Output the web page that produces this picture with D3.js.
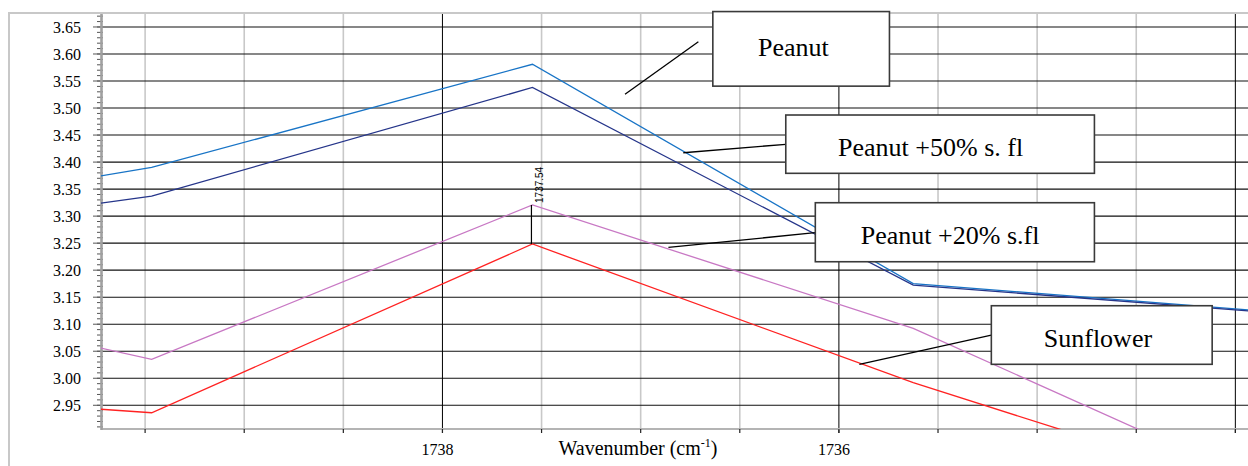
<!DOCTYPE html>
<html>
<head>
<meta charset="utf-8">
<script src="https://cdn.jsdelivr.net/npm/d3@7"></script>
<style>
  html, body { margin: 0; padding: 0; background: #fff; }
  svg { display: block; }
</style>
</head>
<body>
<svg id="chart" width="1248" height="466"></svg>
<script>
// ---------------- DATA ----------------
const wavenumbers = [1741.388, 1739.467, 1737.546, 1735.625, 1733.704];
const seriesNames = ["Peanut", "Peanut +50% s. fl", "Peanut +20% s.fl", "Sunflower"];
const peanut      = [3.272, 3.390, 3.581, 3.175, 3.120];
const peanut50    = [3.239, 3.337, 3.538, 3.1725, 3.118];
const peanut20    = [3.190, 3.035, 3.3206, 3.0924, 2.776];
const sunflower   = [2.985, 2.9362, 3.2484, 2.9918, 2.768];
const yTickValues = [2.95, 3.00, 3.05, 3.10, 3.15, 3.20, 3.25, 3.30, 3.35, 3.40, 3.45, 3.50, 3.55, 3.60, 3.65];
const xTickLabels = [1738, 1736];
const peakWavenumber = 1737.546;

// annotation callouts in data coordinates: [wLeft, wRight, yTop, yBottom], leader [w1,y1,w2,y2], label [w, yBaseline]
const calloutBoxes = [
  [1736.636, 1735.745, 3.6785, 3.5405],
  [1736.268, 1734.711, 3.4871, 3.3792],
  [1736.119, 1734.711, 3.3248, 3.2156],
  [1735.231, 1734.117, 3.1342, 3.0258]
];
const calloutLeaders = [
  [1737.079, 3.5254, 1736.709, 3.6227],
  [1736.785, 3.4173, 1736.268, 3.4329],
  [1736.860, 3.2423, 1736.120, 3.2693],
  [1735.897, 3.0258, 1735.231, 3.0800]
];
const calloutLabels = [
  [1736.2296, 3.5963],
  [1735.5373, 3.4112],
  [1735.4389, 3.2478],
  [1734.6932, 3.0583]
];

// ---------------- LAYOUT ----------------
const colors = ["#1874c6", "#25358a", "#c878c4", "#ff2222"];
const svg = d3.select("#chart");
const pL = 101, pR = 1262, pT = 14, pB = 429;

const x = d3.scaleLinear().domain([1739.7225, 1733.8656]).range([pL, pR]);
const y = d3.scaleLinear().domain([2.9061, 3.674]).range([pB, pT]);

// chart border (light gray)
svg.append("path")
  .attr("d", `M9,466 L9,13 L1248,13`)
  .attr("fill", "none").attr("stroke", "#c8c8c8").attr("stroke-width", 2);

// clip
svg.append("clipPath").attr("id", "plotclip")
  .append("rect").attr("x", pL).attr("y", pT).attr("width", pR - pL).attr("height", pB - pT);

const grid = svg.append("g");
// vertical gridlines every 0.5
const vTicks = d3.range(1734, 1740, 0.5);
grid.selectAll("line.vg").data(vTicks.filter(v => v % 2 !== 0)).join("line")
  .attr("x1", d => x(d)).attr("x2", d => x(d)).attr("y1", pT).attr("y2", pB)
  .attr("stroke", "#c8c8c8").attr("stroke-width", 1.6);
// horizontal gridlines
grid.selectAll("line.hg").data(yTickValues).join("line")
  .attr("x1", pL).attr("x2", pR).attr("y1", d => y(d)).attr("y2", d => y(d))
  .attr("stroke", "#111").attr("stroke-width", 1.1);
// major vertical gridlines (black)
grid.selectAll("line.vm").data(vTicks.filter(v => v % 2 === 0)).join("line")
  .attr("x1", d => x(d)).attr("x2", d => x(d)).attr("y1", pT).attr("y2", pB + 4)
  .attr("stroke", "#000").attr("stroke-width", 1);

// axes lines
svg.append("line").attr("x1", pL).attr("x2", 1248).attr("y1", pB).attr("y2", pB)
  .attr("stroke", "#b4b4b4").attr("stroke-width", 2);

// y ticks: minor every 0.01
const minorY = d3.range(2.91, 3.675, 0.01);
svg.append("g").selectAll("line").data(minorY).join("line")
  .attr("x1", pL - 4).attr("x2", pL + 2).attr("y1", d => y(d)).attr("y2", d => y(d))
  .attr("stroke", "#555").attr("stroke-width", 1);
svg.append("g").selectAll("line").data(yTickValues).join("line")
  .attr("x1", pL - 8).attr("x2", pL).attr("y1", d => y(d)).attr("y2", d => y(d))
  .attr("stroke", "#555").attr("stroke-width", 1);
svg.append("line").attr("x1", pL + 0.5).attr("x2", pL + 0.5).attr("y1", pT).attr("y2", pB + 1)
  .attr("stroke", "#a0a0a0").attr("stroke-width", 2.6);

// x ticks every 0.5
svg.append("g").selectAll("line").data(vTicks.filter(v => x(v) > pL + 5)).join("line")
  .attr("x1", d => x(d)).attr("x2", d => x(d)).attr("y1", pB).attr("y2", pB + 4)
  .attr("stroke", "#222").attr("stroke-width", 1.2);

// y tick labels
svg.append("g").selectAll("text").data(yTickValues).join("text")
  .attr("x", 81).attr("y", d => y(d)).attr("dy", "0.35em")
  .attr("text-anchor", "end")
  .attr("font-family", "'Liberation Serif', 'Times New Roman', serif")
  .attr("font-size", 16).attr("fill", "#000")
  .text(d => d.toFixed(2));

// x tick labels
svg.append("g").selectAll("text").data(xTickLabels).join("text")
  .attr("x", d => x(d) - 5).attr("y", 455)
  .attr("text-anchor", "middle")
  .attr("font-family", "'Liberation Serif', 'Times New Roman', serif")
  .attr("font-size", 16).attr("fill", "#000")
  .text(d => d);

// axis title
const title = svg.append("text").attr("x", 638).attr("y", 455)
  .attr("text-anchor", "middle")
  .attr("font-family", "'Liberation Serif', 'Times New Roman', serif")
  .attr("font-size", 20).attr("fill", "#000");
title.append("tspan").text("Wavenumber (cm");
title.append("tspan").attr("font-size", 12).attr("dy", -8).text("-1");
title.append("tspan").attr("dy", 8).text(")");

// series lines
const allSeries = [peanut, peanut50, peanut20, sunflower];
const line = d3.line().x((d, i) => x(wavenumbers[i])).y(d => y(d));
const plot = svg.append("g").attr("clip-path", "url(#plotclip)");
plot.selectAll("path.s").data(allSeries).join("path")
  .attr("d", d => line(d))
  .attr("fill", "none")
  .attr("stroke", (d, i) => colors[i])
  .attr("stroke-width", 1.3);

// peak annotation
const peakIdx = wavenumbers.indexOf(peakWavenumber);
svg.append("line")
  .attr("x1", x(peakWavenumber) - 1).attr("x2", x(peakWavenumber) - 1)
  .attr("y1", y(sunflower[peakIdx])).attr("y2", y(peanut20[peakIdx]))
  .attr("stroke", "#000").attr("stroke-width", 1.2);
svg.append("text")
  .attr("transform", `translate(${x(peakWavenumber) + 11},${y(peanut20[peakIdx]) - 2}) rotate(-90)`)
  .attr("font-family", "'Liberation Sans', Arial, sans-serif")
  .attr("font-size", 10).attr("fill", "#000")
  .text((Math.floor(peakWavenumber * 100) / 100).toFixed(2));

// callout leaders
svg.append("g").selectAll("line").data(calloutLeaders).join("line")
  .attr("x1", d => x(d[0])).attr("y1", d => y(d[1]))
  .attr("x2", d => x(d[2])).attr("y2", d => y(d[3]))
  .attr("stroke", "#000").attr("stroke-width", 1.3);

// callout boxes
const boxes = svg.append("g").selectAll("g").data(calloutBoxes).join("g");
boxes.append("rect")
  .attr("x", d => x(d[0])).attr("y", d => y(d[2]))
  .attr("width", d => x(d[1]) - x(d[0])).attr("height", d => y(d[3]) - y(d[2]))
  .attr("fill", "#fff").attr("stroke", "#3a3a3a").attr("stroke-width", 1.6);
boxes.append("text")
  .attr("x", (d, i) => x(calloutLabels[i][0]))
  .attr("y", (d, i) => y(calloutLabels[i][1]))
  .attr("text-anchor", "middle")
  .attr("font-family", "'Liberation Serif', 'Times New Roman', serif")
  .attr("font-size", 26).attr("fill", "#000")
  .text((d, i) => seriesNames[i]);
</script>
</body>
</html>
